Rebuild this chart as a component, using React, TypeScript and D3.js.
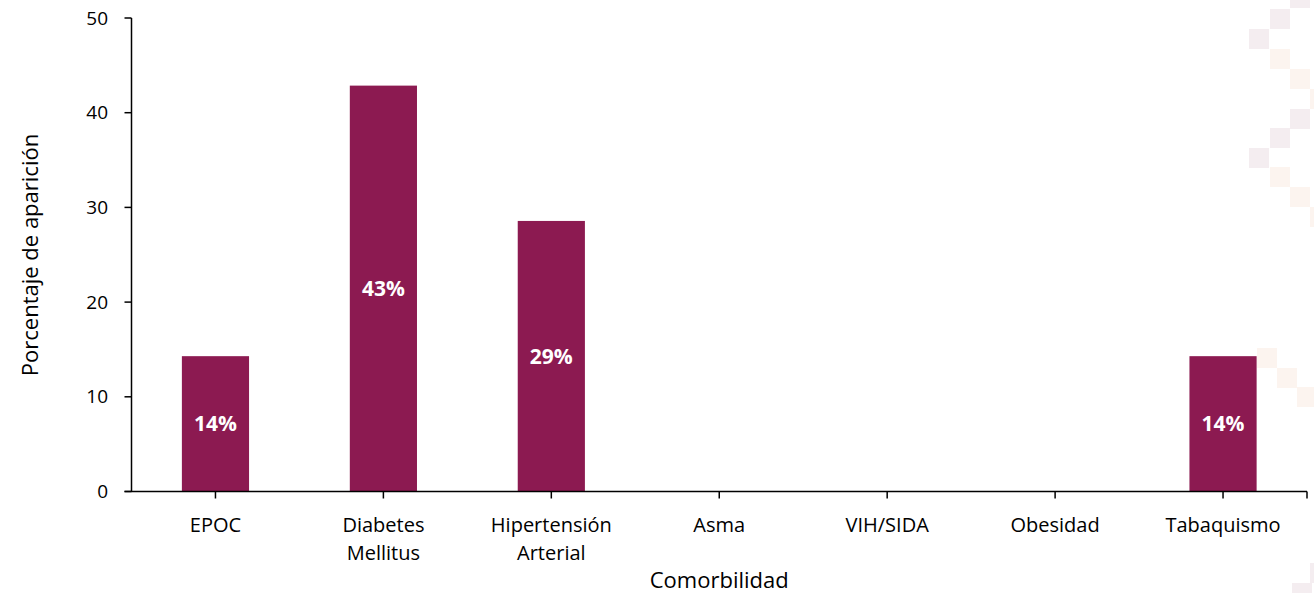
import React from "react";
import * as d3 from "d3";

const categories: string[][] = [
  ["EPOC"],
  ["Diabetes", "Mellitus"],
  ["Hipertensión", "Arterial"],
  ["Asma"],
  ["VIH/SIDA"],
  ["Obesidad"],
  ["Tabaquismo"],
];
const values: number[] = [14.29, 42.86, 28.57, 0, 0, 0, 14.29];
const labels: string[] = ["14%", "43%", "29%", "", "", "", "14%"];
const yTicks: number[] = [0, 10, 20, 30, 40, 50];

// decorative background squares [x, y, kind]
const deco: [number, number, string][] = [
  [1290, -12, "p"], [1270, 9, "p"], [1249, 29, "p"], [1270, 49, "b"], [1290, 69, "b"], [1310, 89, "b"],
  [1290, 109, "p"], [1270, 128, "p"], [1249, 148, "p"], [1270, 167, "b"], [1290, 187, "b"], [1310, 207, "b"],
  [1257, 348, "b"], [1277, 368, "b"], [1297, 387, "b"],
  [1310, 563, "p"], [1292, 583, "p"],
];

export default function App() {
  const W = 1314, H = 593;
  const left = 131.5, right = 1307, top = 18, bottom = 491.5;
  const x = d3.scaleBand<number>().domain(d3.range(categories.length)).range([left, right]).paddingInner(0.6).paddingOuter(0.3);
  const y = d3.scaleLinear().domain([0, 50]).range([bottom, top]);
  const step = x.step();
  const font = "'Open Sans', sans-serif";
  const barColor = "#8C1A51";
  return (
    <svg width={W} height={H} style={{ position: "absolute", left: 0, top: 0, background: "#fff" }}>
      {deco.map(([dx, dy, k], i) => (
        <rect key={"d" + i} x={dx} y={dy} width={20} height={20} fill={k === "p" ? "#F4EDF0" : "#FCF4EF"} />
      ))}
      {values.map((v, i) => (
        <rect key={"b" + i} x={x(i)} y={y(v)} width={x.bandwidth()} height={bottom - y(v)} fill={barColor} />
      ))}
      {values.map((v, i) =>
        labels[i] ? (
          <text key={"l" + i} x={(x(i) as number) + x.bandwidth() / 2} y={(y(v) + bottom) / 2} dy="0.35em"
            textAnchor="middle" fill="#fff" fontWeight="bold" fontSize={21} fontFamily={font}>{labels[i]}</text>
        ) : null
      )}
      {/* y axis */}
      <line x1={left} x2={left} y1={top} y2={bottom} stroke="#000" strokeWidth={1.5} />
      {yTicks.map((t) => (
        <g key={"yt" + t}>
          <line x1={left - 7} x2={left} y1={y(t)} y2={y(t)} stroke="#000" strokeWidth={1.5} />
          <text x={108} y={y(t)} dy="0.35em" textAnchor="end" fontSize={19} fontFamily={font} fill="#000">{t}</text>
        </g>
      ))}
      {/* x axis */}
      <line x1={left - 7} x2={right} y1={bottom} y2={bottom} stroke="#000" strokeWidth={1.5} />
      <line x1={right} x2={right} y1={bottom} y2={bottom + 7} stroke="#000" strokeWidth={1.5} />
      {categories.map((c, i) => {
        const cx = left + step * (i + 0.5);
        return (
          <g key={"xc" + i}>
            <line x1={cx} x2={cx} y1={bottom} y2={bottom + 7} stroke="#000" strokeWidth={1.5} />
            {c.map((ln, j) => (
              <text key={j} x={cx} y={532 + j * 28} textAnchor="middle" fontSize={20} fontFamily={font} fill="#000">{ln}</text>
            ))}
          </g>
        );
      })}
      <text x={(left + right) / 2} y={588} textAnchor="middle" fontSize={22} fontFamily={font} fill="#000">Comorbilidad</text>
      <text transform={`translate(38,255) rotate(-90)`} textAnchor="middle" fontSize={22} fontFamily={font} fill="#000">Porcentaje de aparición</text>
    </svg>
  );
}
